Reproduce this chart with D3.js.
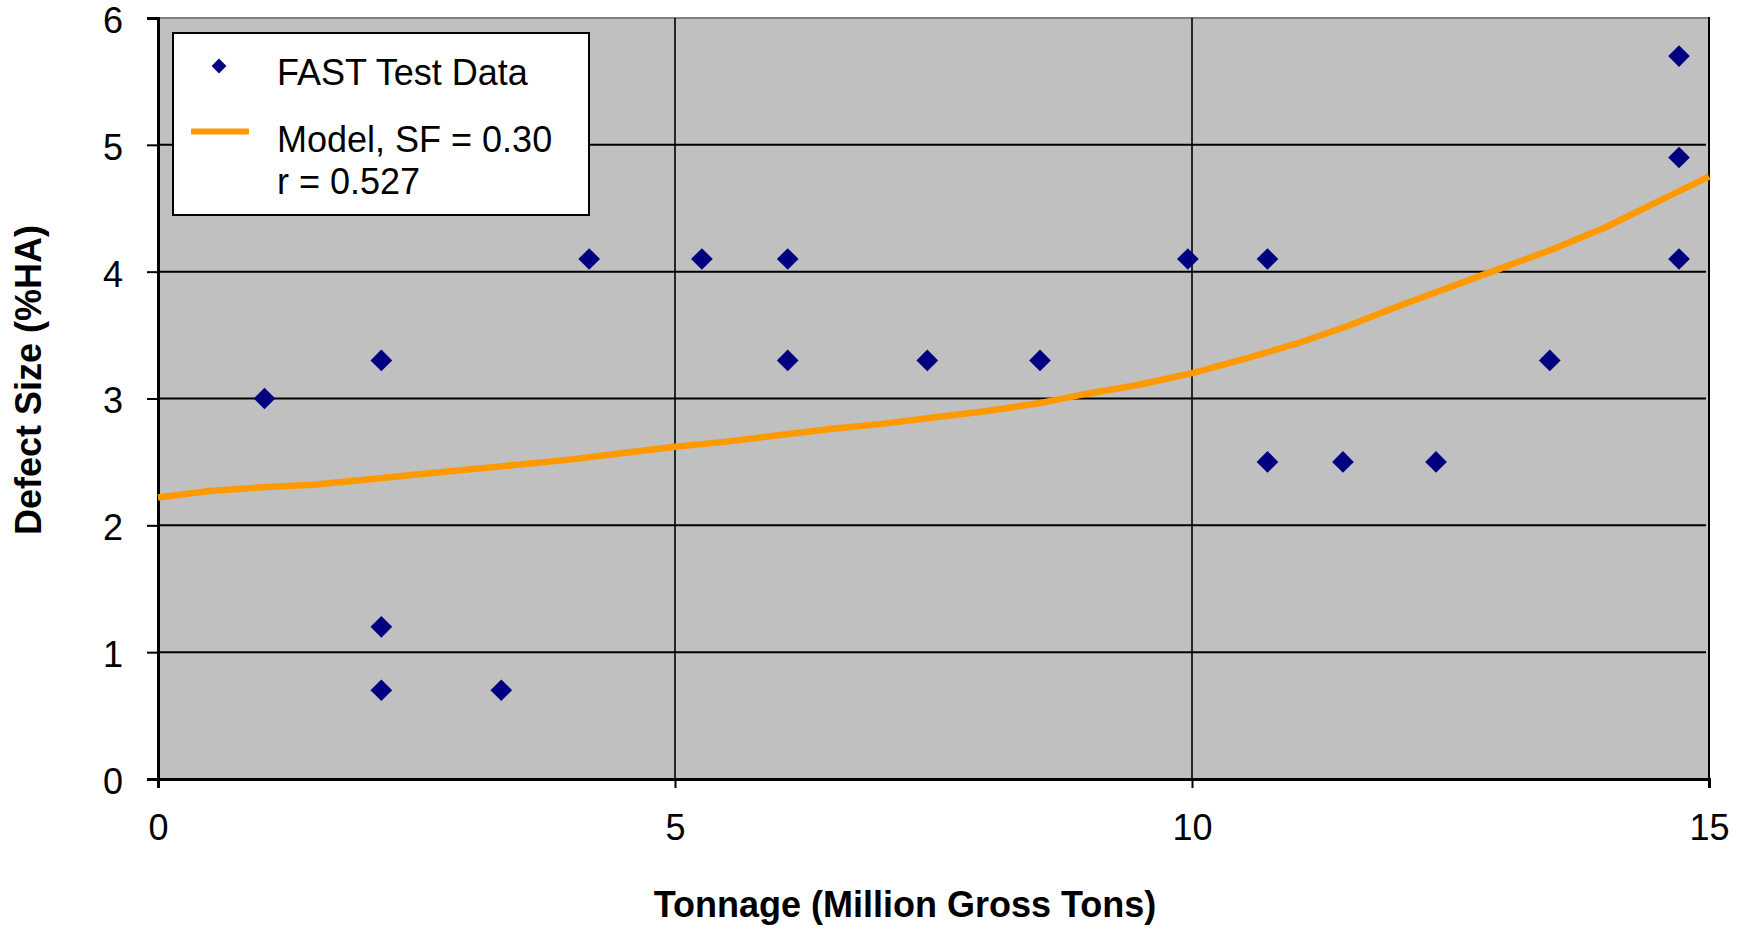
<!DOCTYPE html>
<html>
<head>
<meta charset="utf-8">
<script src="https://cdn.jsdelivr.net/npm/d3@7"></script>
<style>
  html, body { margin: 0; padding: 0; background: #ffffff; }
  svg { display: block; font-family: "Liberation Sans", Arial, sans-serif; }
</style>
</head>
<body>
<svg id="chart" width="1754" height="931"></svg>
<script>
// FAST test measurements: tonnage (MGT) and defect size (%HA)
const testTonnage = [1.03, 2.16, 2.16, 2.16, 3.32, 4.17, 5.26, 6.09, 6.09, 7.44,
                     8.53, 9.96, 10.73, 10.73, 11.46, 12.36, 13.46, 14.71, 14.71, 14.71];
const testDefect  = [3.0, 3.3, 1.2, 0.7, 0.7, 4.1, 4.1, 4.1, 3.3, 3.3,
                     3.3, 4.1, 4.1, 2.5, 2.5, 2.5, 3.3, 5.7, 4.9, 4.1];

// Model prediction curve (SF = 0.30)
const modelTonnage = [0, 0.5, 1, 1.5, 2, 2.5, 3, 3.5, 4, 4.5, 5, 5.5, 6, 6.5, 7, 7.5,
                      8, 8.5, 9, 9.5, 10, 10.5, 11, 11.5, 12, 12.5, 13, 13.5, 14, 14.5, 15];
const modelDefect  = [2.22, 2.27, 2.30, 2.32, 2.36, 2.40, 2.44, 2.48, 2.52, 2.57, 2.62,
                      2.66, 2.71, 2.76, 2.80, 2.85, 2.90, 2.96, 3.04, 3.11, 3.20, 3.31,
                      3.43, 3.57, 3.73, 3.88, 4.03, 4.18, 4.35, 4.55, 4.75];

const xTicks = [0, 5, 10, 15];
const yTicks = [0, 1, 2, 3, 4, 5, 6];

const legendLabels = ["FAST Test Data", "Model, SF = 0.30", "r = 0.527"];
const xTitle = "Tonnage (Million Gross Tons)";
const yTitle = "Defect Size (%HA)";

const svg = d3.select("#chart");
const plotLeft = 158, plotRight = 1709, plotTop = 18, plotBottom = 779;
const fontSize = "36px";

const x = d3.scaleLinear().domain([0, 15]).range([plotLeft, plotRight]);
const y = d3.scaleLinear().domain([0, 6]).range([plotBottom, plotTop]);

// plot area
svg.append("rect")
  .attr("x", plotLeft).attr("y", plotTop)
  .attr("width", plotRight - plotLeft).attr("height", plotBottom - plotTop)
  .attr("fill", "#c0c0c0")
  .attr("stroke", "#808080").attr("stroke-width", 2);

// horizontal grid
svg.append("g").selectAll("line")
  .data(yTicks.filter(d => d > 0 && d < 6))
  .join("line")
  .attr("x1", plotLeft).attr("x2", plotRight - 3)
  .attr("y1", d => y(d)).attr("y2", d => y(d))
  .attr("stroke", "#000").attr("stroke-width", 2);

// vertical grid
svg.append("g").selectAll("line")
  .data(xTicks.filter(d => d > 0 && d < 15))
  .join("line")
  .attr("x1", d => x(d)).attr("x2", d => x(d))
  .attr("y1", plotTop).attr("y2", plotBottom)
  .attr("stroke", "#000").attr("stroke-width", 1.6);

// right border
svg.append("line")
  .attr("x1", plotRight).attr("x2", plotRight)
  .attr("y1", plotTop - 1).attr("y2", plotBottom)
  .attr("stroke", "#000").attr("stroke-width", 2);

// axes
const xAxis = d3.axisBottom(x).tickValues(xTicks).tickSize(9).tickPadding(26)
  .tickFormat(d3.format("d"));
const yAxis = d3.axisLeft(y).tickValues(yTicks).tickSize(11).tickPadding(24)
  .tickFormat(d3.format("d"));

const gx = svg.append("g").attr("transform", `translate(0,${plotBottom})`).call(xAxis);
const gy = svg.append("g").attr("transform", `translate(${plotLeft},0)`).call(yAxis);

[gx, gy].forEach(g => {
  g.select(".domain").attr("stroke", "#000").attr("stroke-width", 3);
  g.selectAll(".tick line").attr("stroke", "#000").attr("stroke-width", 2);
  g.selectAll(".tick text")
    .attr("fill", "#000")
    .style("font-size", fontSize)
    .style("font-family", "'Liberation Sans', Arial, sans-serif");
});
gy.selectAll(".tick text").attr("dy", "0.40em");

// model curve
const line = d3.line().x(d => x(d[0])).y(d => y(d[1]));
svg.append("path")
  .datum(modelTonnage.map((t, i) => [t, modelDefect[i]]))
  .attr("d", line)
  .attr("fill", "none")
  .attr("stroke", "#ff9900")
  .attr("stroke-width", 6.5)
  .attr("stroke-linejoin", "round");

// test data diamonds
const diamond = d3.symbol().type(d3.symbolSquare).size(235);
svg.append("g").selectAll("path")
  .data(testTonnage.map((t, i) => [t, testDefect[i]]))
  .join("path")
  .attr("d", diamond)
  .attr("transform", d => `translate(${x(d[0])},${y(d[1])}) rotate(45)`)
  .attr("fill", "#000080");

// legend
const lg = svg.append("g");
lg.append("rect")
  .attr("x", 173).attr("y", 33).attr("width", 416).attr("height", 182)
  .attr("fill", "#fff").attr("stroke", "#000").attr("stroke-width", 2);
lg.append("path")
  .attr("d", d3.symbol().type(d3.symbolSquare).size(110))
  .attr("transform", "translate(219,66) rotate(45)")
  .attr("fill", "#000080");
lg.append("line")
  .attr("x1", 191).attr("x2", 249).attr("y1", 131.5).attr("y2", 131.5)
  .attr("stroke", "#ff9900").attr("stroke-width", 6);
lg.selectAll("text")
  .data(legendLabels)
  .join("text")
  .attr("x", 277)
  .attr("y", (d, i) => [85, 152, 194][i])
  .attr("fill", "#000")
  .style("font-size", fontSize)
  .text(d => d);

// axis titles
svg.append("text")
  .attr("x", 905).attr("y", 917)
  .attr("text-anchor", "middle")
  .style("font-size", fontSize).style("font-weight", "bold")
  .text(xTitle);

svg.append("text")
  .attr("transform", "translate(41,380) rotate(-90)")
  .attr("text-anchor", "middle")
  .style("font-size", fontSize).style("font-weight", "bold")
  .text(yTitle);
</script>
</body>
</html>
